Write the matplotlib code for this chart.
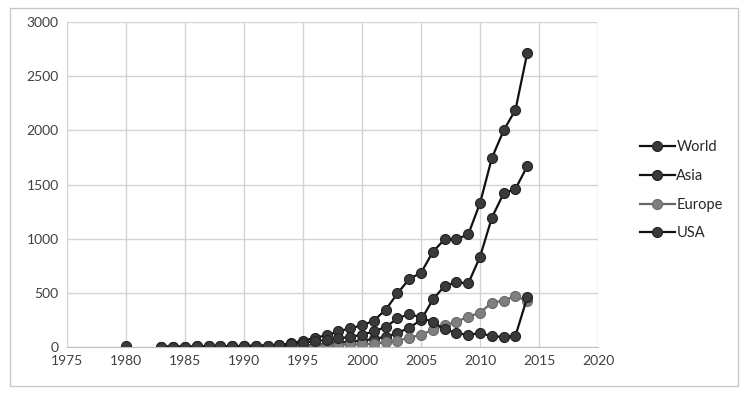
import matplotlib
matplotlib.use("Agg")
import matplotlib.pyplot as plt
from matplotlib.patches import Rectangle

nan = float('nan')

# Values (nan = no data for that year)
years_usa = list(range(1980, 2015))
usa = [10, nan, nan, 5, 5, 5, 6, 7, 8, 9, 10, 12, 14, 16, 25, 40, 55, 65, 80, 95,
       115, 145, 185, 265, 305, 275, 230, 165, 130, 112, 130, 100, 95, 105, 460]

years_world = list(range(1983, 2015))
world = [5, 5, 5, 6, 7, 8, 9, 10, 12, 15, 20, 35, 60, 85, 110, 145, 175, 200,
         245, 345, 495, 630, 685, 880, 995, 995, 1040, 1330, 1745, 2000, 2190, 2715]

years_asia = list(range(1990, 2015))
asia = [3, 4, 5, 7, 10, 15, 20, 30, 40, 50, 60, 75, 95, 130, 180, 250, 440,
        565, 598, 588, 835, 1195, 1420, 1460, 1670]

years_europe = list(range(1994, 2015))
europe = [5, 10, 15, 18, 20, 25, 26, 32, 46, 60, 85, 115, 160, 200, 235, 280,
          318, 410, 430, 470, 425]

x_ticks = list(range(1975, 2021, 5))
y_ticks = list(range(0, 3001, 500))

plt.rcParams['font.family'] = ['Lato', 'DejaVu Sans']

fig = plt.figure(figsize=(7.48, 3.99), dpi=100)
fig.patches.append(Rectangle((0.013, 0.033), 0.974, 0.947, transform=fig.transFigure,
                             fill=False, edgecolor='#c8c8c8', linewidth=1))
ax = fig.add_axes([0.0896, 0.130, 0.710, 0.815])

dark_line = '#111111'
dark_marker = '#3a3a3a'
style = dict(linewidth=1.6, marker='o', markersize=7.2, markeredgewidth=0.8)

ax.plot(years_world, world, color=dark_line, markerfacecolor=dark_marker,
        markeredgecolor='#222222', label='World', **style)
ax.plot(years_asia, asia, color=dark_line, markerfacecolor=dark_marker,
        markeredgecolor='#222222', label='Asia', **style)
ax.plot(years_europe, europe, color='#666666', markerfacecolor='#7f7f7f',
        markeredgecolor='#6a6a6a', label='Europe', **style)
ax.plot(years_usa, usa, color=dark_line, markerfacecolor=dark_marker,
        markeredgecolor='#222222', label='USA', **style)

ax.set_xlim(1975, 2020)
ax.set_ylim(0, 3000)
ax.set_xticks(x_ticks)
ax.set_yticks(y_ticks)
ax.grid(True, color='#d4d4d4', linewidth=1)
ax.set_axisbelow(True)
for side in ['top', 'right', 'left']:
    ax.spines[side].set_visible(False)
ax.spines['bottom'].set_color('#bfbfbf')
ax.tick_params(length=0, labelsize=10, colors='#404040', pad=6)

fig.legend(loc='center left', bbox_to_anchor=(0.838, 0.523), frameon=False,
           fontsize=10.5, handlelength=2.4, handletextpad=0.1, labelspacing=1.0,
           labelcolor='#262626')

fig.savefig('out.png', dpi=100)
